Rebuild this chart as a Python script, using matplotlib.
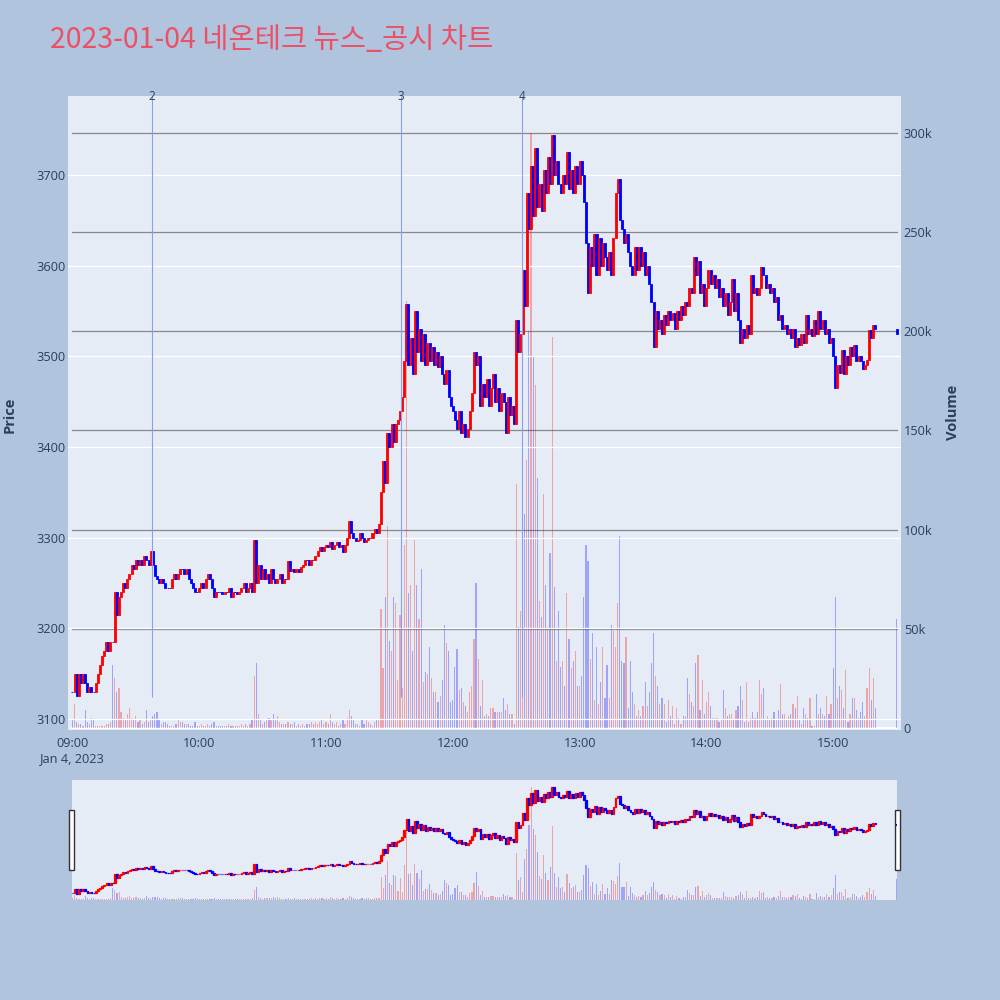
import numpy as np
import matplotlib.pyplot as plt
from matplotlib.patches import Rectangle
from matplotlib.transforms import blended_transform_factory

plt.rcParams['font.family'] = ['Open Sans', 'Noto Sans CJK KR', 'DejaVu Sans']

title = "2023-01-04 네온테크 뉴스_공시 차트"

# 1-minute closes from 09:00 (last value = 15:30 closing auction)
day_open = 3130
closes = [
    3130,
    3150, 3125, 3150, 3140, 3150, 3140, 3130, 3135, 3130, 3130,
    3140, 3150, 3160, 3170, 3175, 3185, 3175, 3185, 3185, 3240,
    3215, 3235, 3240, 3250, 3245, 3255, 3260, 3270, 3265, 3275,
    3270, 3275, 3270, 3280, 3275, 3270, 3285, 3270, 3258, 3255,
    3250, 3255, 3250, 3245, 3245, 3245, 3255, 3260, 3255, 3260,
    3265, 3265, 3260, 3265, 3255, 3250, 3245, 3240, 3240, 3245,
    3250, 3245, 3255, 3260, 3255, 3245, 3235, 3240, 3240, 3240,
    3238, 3240, 3240, 3245, 3235, 3240, 3240, 3238, 3240, 3245,
    3250, 3240, 3245, 3250, 3240, 3298, 3250, 3270, 3255, 3265,
    3255, 3260, 3250, 3265, 3255, 3250, 3255, 3260, 3250, 3255,
    3255, 3274, 3263, 3265, 3262, 3265, 3262, 3268, 3270, 3275,
    3275, 3270, 3275, 3275, 3280, 3285, 3290, 3285, 3290, 3292,
    3290, 3295, 3288, 3292, 3295, 3290, 3292, 3284, 3292, 3300,
    3318, 3305, 3300, 3296, 3298, 3305, 3300, 3295, 3298, 3300,
    3300, 3305, 3310, 3305, 3315, 3350, 3385, 3360, 3415, 3400,
    3425, 3405, 3425, 3430, 3440, 3455, 3495, 3558, 3490, 3520,
    3480, 3550, 3505, 3530, 3495, 3525, 3490, 3515, 3495, 3510,
    3490, 3505, 3488, 3500, 3480, 3470, 3485, 3455, 3445, 3440,
    3430, 3420, 3440, 3415, 3425, 3411, 3420, 3440, 3460, 3505,
    3490, 3500, 3445, 3470, 3455, 3475, 3445, 3465, 3480, 3450,
    3465, 3440, 3460, 3450, 3415, 3455, 3435, 3445, 3425, 3540,
    3505, 3525, 3595, 3555, 3680, 3640, 3710, 3655, 3730, 3665,
    3690, 3660, 3705, 3680, 3720, 3690, 3744, 3700, 3715, 3690,
    3680, 3700, 3690, 3725, 3685, 3705, 3680, 3710, 3690, 3715,
    3700, 3670, 3625, 3570, 3620, 3600, 3635, 3590, 3630, 3600,
    3625, 3610, 3595, 3615, 3590, 3630, 3680, 3695, 3650, 3640,
    3625, 3635, 3615, 3600, 3590, 3620, 3595, 3620, 3600, 3615,
    3590, 3600, 3580, 3560, 3510, 3550, 3530, 3540, 3525, 3545,
    3535, 3550, 3540, 3548, 3530, 3550, 3540, 3555, 3545, 3560,
    3555, 3575, 3570, 3610, 3590, 3605, 3570, 3580, 3555, 3575,
    3595, 3580, 3590, 3575, 3585, 3565, 3575, 3555, 3570, 3545,
    3560, 3585, 3550, 3570, 3540, 3515, 3530, 3520, 3535, 3525,
    3590, 3570, 3575, 3568, 3575, 3598, 3590, 3575, 3580, 3570,
    3575, 3560, 3565, 3540, 3545, 3530, 3535, 3525, 3530, 3520,
    3530, 3510, 3520, 3512, 3525, 3515, 3545, 3525, 3530, 3522,
    3540, 3525, 3550, 3530, 3540, 3525, 3530, 3515, 3520, 3500,
    3465, 3490, 3482, 3507, 3480, 3500, 3490, 3510, 3500, 3512,
    3495, 3500, 3495, 3486, 3490, 3496, 3529, 3520, 3535, 3530,
    3525,
]

# volume per minute, thousands of shares
volumes_k = [
    4,
    12, 3, 2, 2, 1, 9, 3, 2, 5, 4,
    1, 1, 1, 1, 1, 2, 2, 3, 32, 25,
    18, 20, 8, 5, 4, 7, 10, 5, 4, 6,
    3, 4, 2, 3, 9, 3, 4, 6, 7, 8,
    4, 2, 3, 3, 2, 1, 1, 1, 2, 4,
    3, 3, 2, 2, 2, 1, 1, 3, 1, 1,
    2, 1, 1, 2, 1, 2, 3, 1, 1, 1,
    1, 1, 1, 2, 1, 1, 1, 1, 1, 2,
    1, 2, 1, 2, 4, 26, 33, 7, 4, 2,
    3, 4, 5, 4, 7, 4, 6, 3, 2, 2,
    2, 3, 2, 2, 3, 1, 2, 1, 2, 1,
    2, 2, 3, 2, 3, 2, 3, 4, 2, 3,
    2, 7, 3, 2, 3, 1, 2, 4, 2, 5,
    9, 6, 4, 2, 2, 1, 4, 2, 4, 3,
    2, 1, 3, 4, 4, 60, 30, 66, 102, 44,
    39, 66, 63, 24, 57, 20, 92, 215, 68, 72,
    39, 95, 72, 55, 80, 23, 28, 27, 41, 25,
    18, 18, 13, 16, 24, 52, 43, 39, 13, 14,
    31, 40, 19, 20, 13, 11, 8, 18, 21, 45,
    73, 35, 11, 24, 6, 7, 6, 10, 10, 8,
    8, 8, 8, 15, 9, 12, 7, 7, 2, 123,
    51, 59, 20, 108, 135, 200, 300, 187, 173, 126,
    64, 56, 118, 72, 51, 88, 197, 71, 34, 59,
    31, 34, 21, 68, 45, 30, 34, 39, 21, 21,
    26, 66, 92, 84, 35, 48, 14, 41, 12, 23,
    41, 15, 32, 15, 52, 49, 41, 63, 97, 34,
    33, 46, 10, 34, 18, 12, 6, 9, 6, 11,
    23, 11, 18, 33, 48, 26, 21, 12,
    15, 12, 3, 14, 6, 11, 2, 10, 5, 2,
    6, 6, 25, 17, 13, 11, 33, 37, 9, 24,
    7, 13, 18, 11, 5, 5, 5, 3, 4, 19,
    10, 6, 7, 7, 4, 9, 11, 21, 14, 3,
    23, 3, 5, 8, 5, 8, 24, 17, 20, 4,
    6, 4, 5, 8, 4, 9, 22, 7, 7, 4,
    6, 7, 12, 10, 16, 4, 2, 10, 7, 5,
    15, 1, 1, 17, 7, 10, 7, 6, 16, 7,
    12, 30, 66, 15, 21, 19, 10, 29, 3, 7,
    15, 15, 9, 5, 8, 13, 6, 20, 30, 14,
    25, 10,
    55,
]
close_auction_minute = 390

event_labels = ["2", "3", "4"]
event_minutes = [37.6, 155.5, 212.7]
event_line_floor = 3124

hour_ticks = [0, 60, 120, 180, 240, 300, 360]
hour_labels = ["09:00\nJan 4, 2023", "10:00", "11:00", "12:00", "13:00", "14:00", "15:00"]
price_ticks = [3100, 3200, 3300, 3400, 3500, 3600, 3700]
vol_ticks = [0, 50, 100, 150, 200, 250, 300]
vol_labels = ["0", "50k", "100k", "150k", "200k", "250k", "300k"]

minutes = np.array(list(range(len(closes) - 1)) + [close_auction_minute])
c = np.array(closes, dtype=float)
o = np.array([day_open] + closes[:-1], dtype=float)
vol = np.array(volumes_k, dtype=float)
cols = np.where(c > o, '#FF0000', '#0000FF')

BG = '#B0C4DE'
PLOT_BG = '#E5ECF6'
TXT = '#2a3f5f'
PRICE_LIM = (3088, 3787)
VOL_LIM = (-1, 318.5)

fig = plt.figure(figsize=(10, 10), dpi=100, facecolor=BG)


def draw_pair(rect, xlim, body_w, edge_w):
    axv = fig.add_axes(rect, facecolor=PLOT_BG)
    axp = fig.add_axes(rect, sharex=axv)
    axp.set_zorder(axv.get_zorder() + 1)
    axp.patch.set_visible(False)
    axv.bar(minutes, vol, width=0.55, color=cols, alpha=0.3, linewidth=0)
    axp.bar(minutes, np.abs(c - o), bottom=np.minimum(o, c), width=body_w,
            color=cols, edgecolor=cols, linewidth=edge_w)
    axv.set_ylim(*VOL_LIM)
    axp.set_ylim(*PRICE_LIM)
    axv.set_xlim(*xlim)
    for a in (axv, axp):
        for s in a.spines.values():
            s.set_visible(False)
    return axv, axp


# main chart
ax_v, ax_p = draw_pair([0.068, 0.27, 0.833, 0.634], (-2.1, 392.1), 0.95, 0.6)

for p in price_ticks:
    ax_p.axhline(p, color='white', lw=0.9, zorder=0)
for v in vol_ticks[1:]:
    ax_v.axhline(v, xmin=0.005, xmax=0.995, color='#888888', lw=0.9, zorder=0)
ax_v.axhline(0, xmin=0.005, xmax=0.995, color='white', lw=1.5, zorder=0)

ax_p.set_yticks(price_ticks)
ax_p.tick_params(axis='y', length=0, pad=2, labelsize=9.2, labelcolor=TXT)
ax_p.set_xticks(hour_ticks)
ax_p.set_xticklabels(hour_labels)
ax_p.tick_params(axis='x', length=0, pad=5, labelsize=9.2, labelcolor=TXT)
for lbl in ax_p.get_xticklabels():
    lbl.set_linespacing(1.25)

ax_v.yaxis.tick_right()
ax_v.set_yticks(vol_ticks)
ax_v.set_yticklabels(vol_labels)
ax_v.tick_params(axis='y', length=0, pad=2, labelsize=9.2, labelcolor=TXT)
ax_v.tick_params(axis='x', bottom=False, labelbottom=False)

ax_p.vlines(event_minutes, event_line_floor, PRICE_LIM[1], color='#8c9ef0', lw=0.8, zorder=1)
trans = blended_transform_factory(ax_p.transData, ax_p.transAxes)
for t, lab in zip(event_minutes, event_labels):
    ax_p.text(t, 1.0, lab, transform=trans, ha='center', va='center',
              fontsize=8.5, color=TXT)

fig.text(0.01, 0.585, "Price", rotation=90, ha='center', va='center',
         fontsize=10.5, fontweight='bold', color=TXT)
fig.text(0.953, 0.588, "Volume", rotation=90, ha='center', va='center',
         fontsize=10.5, fontweight='bold', color=TXT)

fig.text(0.05, 0.96, title, ha='left', va='center', fontsize=20.5,
         color='#EC5066', family=['Noto Sans CJK KR', 'DejaVu Sans'])

# range slider
sl_v, sl_p = draw_pair([0.072, 0.10, 0.825, 0.12], (-0.3, 390.2), 0.8, 0.9)
for a in (sl_v, sl_p):
    a.set_xticks([])
    a.set_yticks([])

for hx in (0.069, 0.8953):
    fig.add_artist(Rectangle((hx, 0.13), 0.0045, 0.06, transform=fig.transFigure,
                             facecolor='white', edgecolor='#333333', lw=1))

fig.savefig('out.png', dpi=100, facecolor=BG)
